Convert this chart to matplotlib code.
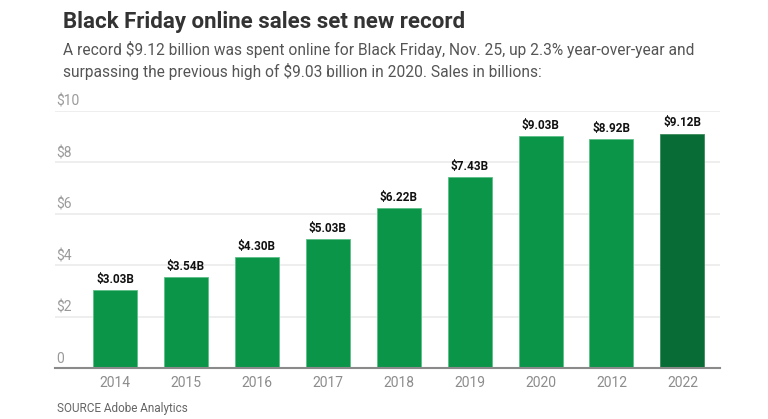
import matplotlib.pyplot as plt

years = ['2014', '2015', '2016', '2017', '2018', '2019', '2020', '2012', '2022']
sales = [3.03, 3.54, 4.30, 5.03, 6.22, 7.43, 9.03, 8.92, 9.12]
bar_labels = ['$3.03B', '$3.54B', '$4.30B', '$5.03B', '$6.22B', '$7.43B', '$9.03B', '$8.92B', '$9.12B']
yticks = [0, 2, 4, 6, 8, 10]
ytick_labels = ['0', '$2', '$4', '$6', '$8', '$10']

plt.rcParams['font.family'] = ['Roboto', 'DejaVu Sans']

fig = plt.figure(figsize=(7.68, 4.19), dpi=100)
ax = fig.add_axes([55 / 768, 51 / 419, 665 / 768, 257 / 419])

colors = ['#0b9549'] * (len(years) - 1) + ['#086c36']
x = range(len(years))
bars = ax.bar(x, sales, width=0.62, color=colors, edgecolor='#5cbf86', linewidth=0.6, zorder=3)
bars[-1].set_edgecolor('#3d8a5c')

for xi, v, lab in zip(x, sales, bar_labels):
    ax.annotate(lab, (xi, v), xytext=(0, 3), textcoords='offset points',
                ha='center', va='bottom', fontsize=8.5, fontweight='bold', color='#111111')

ax.set_xlim(-0.845, 8.53)
ax.set_ylim(0, 10)
ax.set_yticks(yticks)
ax.set_yticklabels([])
ax.yaxis.grid(True, color='#ebebeb', linewidth=1.2, zorder=0)
ax.tick_params(axis='y', length=0)
for t, lab in zip(yticks, ytick_labels):
    ax.annotate(lab, (0, t), xycoords=('axes fraction', 'data'), xytext=(1, 6.5),
                textcoords='offset points', ha='left', va='center', fontsize=10, color='#9a9a9a')

ax.set_xticks(list(x))
ax.set_xticklabels(years, fontsize=10, color='#8c8c8c')
ax.tick_params(axis='x', length=0, pad=6)

for s in ['top', 'right', 'left']:
    ax.spines[s].set_visible(False)
ax.spines['bottom'].set_color('#8a8a8a')
ax.spines['bottom'].set_linewidth(1.5)
ax.spines['bottom'].set_zorder(4)

fig.text(63 / 768, 1 - 22 / 419, 'Black Friday online sales set new record', fontsize=16,
         fontweight='bold', color='#333333', va='center', ha='left')
fig.text(63 / 768, 1 - 50 / 419,
         'A record $9.12 billion was spent online for Black Friday, Nov. 25, up 2.3% year-over-year and',
         fontsize=11.2, color='#555555', va='center', ha='left')
fig.text(63 / 768, 1 - 72 / 419,
         'surpassing the previous high of $9.03 billion in 2020. Sales in billions:',
         fontsize=11.2, color='#555555', va='center', ha='left')
fig.text(57 / 768, 1 - 408 / 419, 'SOURCE Adobe Analytics', fontsize=8.5, color='#666666',
         va='center', ha='left')

fig.savefig('out.png', dpi=100)
